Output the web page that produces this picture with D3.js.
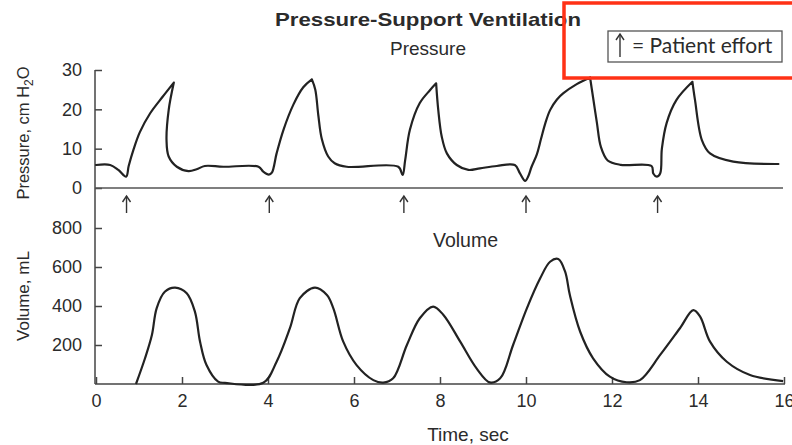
<!DOCTYPE html>
<html>
<head>
<meta charset="utf-8">
<script src="https://cdn.jsdelivr.net/npm/d3@7"></script>
<style>
  html, body { margin: 0; padding: 0; background: #fff; }
  svg { display: block; }
  text { font-family: "Liberation Sans", Arial, sans-serif; fill: #2b2b2b; }
</style>
</head>
<body>
<div id="chart"></div>
<script>
// Pressure trace (time in sec, cm H2O)
const pressureTime = [0, 0.33, 0.52, 0.70, 0.76, 0.87, 1.02, 1.26, 1.55, 1.81,
  1.69, 1.64, 1.69, 1.88, 2.15, 2.34, 2.53, 2.96, 3.78, 3.89, 4.02, 4.09,
  4.20, 4.36, 4.59, 4.82, 5.02, 5.10, 5.17, 5.25, 5.40, 5.55, 5.83, 7.03,
  7.13, 7.19, 7.30, 7.53, 7.77, 7.91, 7.96, 8.04, 8.16, 8.39, 8.66, 8.93,
  9.32, 9.74, 9.86, 9.98, 10.05, 10.13, 10.25, 10.35, 10.45, 10.56, 10.72,
  10.87, 11.18, 11.49, 11.56, 11.65, 11.74, 11.90, 12.20, 12.92, 12.96,
  13.04, 13.12, 13.16, 13.27, 13.50, 13.87, 13.93, 14.09, 14.28, 14.82, 15.87];
const pressureValue = [5.85, 5.85, 4.6, 2.9, 5.6, 9.7, 14.2, 19.0, 23.2, 26.8,
  19.8, 12.2, 8.0, 5.4, 4.3, 4.75, 5.6, 5.4, 5.4, 4.15, 3.4, 3.9,
  8.8, 14.8, 21.2, 25.6, 27.6, 25.0, 18.5, 12.5, 8.0, 6.3, 5.4, 5.4,
  3.3, 7.1, 14.8, 21.6, 24.9, 26.6, 19.8, 13.1, 8.8, 5.85, 4.6, 5.0,
  5.6, 5.85, 3.7, 1.8, 2.9, 5.4, 8.5, 12.5, 16.5, 19.8, 22.5,
  24.1, 26.4, 28.1, 23.0, 16.5, 10.5, 7.0, 5.9, 5.6, 3.7,
  2.9, 3.7, 10.0, 16.5, 22.4, 27.0, 22.4, 12.2, 8.8, 6.7, 6.1];

// Volume trace (time in sec, mL)
const volumeTime = [0.93, 1.14, 1.30, 1.41, 1.60, 1.84, 2.11, 2.30, 2.42, 2.57,
  2.84, 3.0, 3.89, 4.20, 4.51, 4.74, 5.09, 5.37, 5.52, 5.75, 6.06, 6.45,
  6.68, 6.91, 7.23, 7.53, 7.84, 8.08, 8.47, 8.85, 9.16, 9.40, 9.70, 10.02,
  10.33, 10.56, 10.75, 10.91, 11.02, 11.26, 11.56, 11.95, 12.34, 12.65,
  13.12, 13.58, 13.89, 14.05, 14.28, 14.67, 15.21, 15.98];
const volumeValue = [0, 132, 251, 388, 473, 494, 465, 371, 217, 97,
  12, 6, 6, 114, 286, 440, 494, 456, 388, 217, 97, 20,
  7, 29, 200, 337, 397, 354, 217, 80, 8, 29, 200, 388,
  542, 627, 641, 576, 456, 268, 132, 38, 9, 20,
  149, 286, 379, 345, 217, 114, 46, 15];

// Patient effort markers
const effortTimes = [0.71, 4.03, 7.16, 10.0, 13.06];

const timeTicks = [0, 2, 4, 6, 8, 10, 12, 14, 16];
const pressureTicks = [0, 10, 20, 30];
const volumeTicks = [200, 400, 600, 800];

const width = 792, height = 445;
const ink = "#222";

const svg = d3.select("#chart").append("svg")
  .attr("width", width)
  .attr("height", height);

const x = d3.scaleLinear().domain([0, 16]).range([96, 784]);
const yP = d3.scaleLinear().domain([0, 30]).range([188, 70]);
const yV = d3.scaleLinear().domain([0, 800]).range([384, 228]);

// axes
const gP = svg.append("g")
  .attr("transform", `translate(${x(0) - 1},0)`)
  .call(d3.axisLeft(yP).tickValues(pressureTicks).tickSize(-7).tickPadding(13));
const gV = svg.append("g")
  .attr("transform", `translate(${x(0) - 1},0)`)
  .call(d3.axisLeft(yV).tickValues(volumeTicks).tickSize(-7).tickPadding(13));
const gX = svg.append("g")
  .attr("transform", `translate(0,${yV(0)})`)
  .call(d3.axisBottom(x).tickValues(timeTicks).tickSize(-7).tickPadding(10));

[gP, gV, gX].forEach(g => {
  g.select(".domain").remove();
  g.selectAll("line").attr("stroke", "#444").attr("stroke-width", 1.5);
  g.selectAll("text")
    .style("font-family", "'Liberation Sans', Arial, sans-serif")
    .style("font-size", "18px")
    .attr("fill", "#2b2b2b");
});

// axis lines
svg.append("line")
  .attr("x1", x(0) - 1).attr("x2", x(0) - 1)
  .attr("y1", yP(30)).attr("y2", yV(0))
  .attr("stroke", "#444").attr("stroke-width", 1.5);
svg.append("line")
  .attr("x1", x(0) - 1).attr("x2", x(16) + 1)
  .attr("y1", yV(0)).attr("y2", yV(0))
  .attr("stroke", "#444").attr("stroke-width", 1.5);
svg.append("line")
  .attr("x1", x(0) - 1).attr("x2", x(16) - 1)
  .attr("y1", yP(0)).attr("y2", yP(0))
  .attr("stroke", "#555").attr("stroke-width", 1.3);

// traces
const pressureLine = d3.line()
  .x(i => x(pressureTime[i]))
  .y(i => yP(pressureValue[i]))
  .curve(d3.curveCatmullRom.alpha(0.5));

// split at the pressure peaks so each peak stays a sharp corner
const pIdx = d3.range(pressureTime.length);
const peaks = pIdx.filter(i => i > 0 && i < pIdx.length - 1 &&
  pressureValue[i] > 20 &&
  pressureValue[i] > pressureValue[i - 1] && pressureValue[i] > pressureValue[i + 1]);
const bounds = [0, ...peaks, pIdx.length - 1];
const pressurePath = d3.pairs(bounds)
  .map(([a, b]) => pressureLine(pIdx.slice(a, b + 1)))
  .join("");
svg.append("path")
  .attr("d", pressurePath)
  .attr("fill", "none").attr("stroke", ink).attr("stroke-width", 2.2)
  .attr("stroke-linejoin", "round").attr("stroke-linecap", "round");

const volumeLine = d3.line()
  .x(i => x(volumeTime[i]))
  .y(i => yV(volumeValue[i]))
  .curve(d3.curveCatmullRom.alpha(0.5));
svg.append("path")
  .attr("d", volumeLine(d3.range(volumeTime.length)))
  .attr("fill", "none").attr("stroke", ink).attr("stroke-width", 2.2)
  .attr("stroke-linejoin", "round");

// effort arrows
function arrow(g, cx, top, bottom) {
  g.append("line")
    .attr("x1", cx).attr("x2", cx).attr("y1", top).attr("y2", bottom)
    .attr("stroke", "#333").attr("stroke-width", 1.4);
  g.append("path")
    .attr("d", `M${cx - 4},${top + 6}L${cx},${top}L${cx + 4},${top + 6}`)
    .attr("fill", "none").attr("stroke", "#333").attr("stroke-width", 1.4);
}
const arrows = svg.append("g");
effortTimes.forEach(t => arrow(arrows, x(t), 196, 213));

// titles
svg.append("text")
  .attr("x", 428).attr("y", 26)
  .attr("text-anchor", "middle")
  .attr("textLength", 306).attr("lengthAdjust", "spacingAndGlyphs")
  .style("font-family", "'Liberation Sans', Arial, sans-serif")
  .style("font-weight", "bold").style("font-size", "19px")
  .text("Pressure-Support Ventilation");
svg.append("text")
  .attr("x", 428).attr("y", 55)
  .attr("text-anchor", "middle").style("font-size", "19px")
  .text("Pressure");
svg.append("text")
  .attr("x", 433).attr("y", 247)
  .style("font-size", "19.5px")
  .text("Volume");
svg.append("text")
  .attr("x", 468).attr("y", 441)
  .attr("text-anchor", "middle").style("font-size", "19px")
  .text("Time, sec");

// y labels
const pLabel = svg.append("text")
  .attr("transform", "translate(29,133) rotate(-90)")
  .attr("text-anchor", "middle").style("font-size", "16.5px");
pLabel.append("tspan").text("Pressure, cm H");
pLabel.append("tspan").attr("dy", 4).style("font-size", "12px").text("2");
pLabel.append("tspan").attr("dy", -4).text("O");
svg.append("text")
  .attr("transform", "translate(29,296) rotate(-90)")
  .attr("text-anchor", "middle").style("font-size", "17px")
  .text("Volume, mL");

// legend box
svg.append("rect")
  .attr("x", 608).attr("y", 31).attr("width", 174).attr("height", 31)
  .attr("fill", "#fff").attr("stroke", "#555").attr("stroke-width", 1.3);
arrow(svg, 620, 34, 57);
svg.append("text")
  .attr("x", 632).attr("y", 53)
  .style("font-family", "Lato, 'Liberation Sans', sans-serif")
  .style("font-size", "21px")
  .text("= Patient effort");

// red highlight frame
svg.append("rect")
  .attr("x", 564).attr("y", 3).attr("width", 240).attr("height", 75)
  .attr("fill", "none").attr("stroke", "#ff3116").attr("stroke-width", 3.5);
</script>
</body>
</html>
